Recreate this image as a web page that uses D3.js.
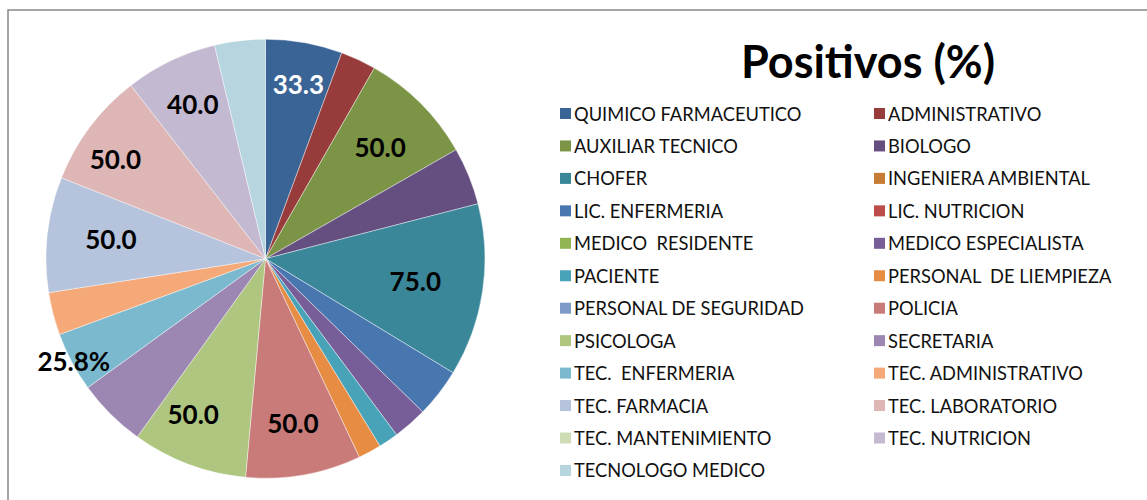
<!DOCTYPE html>
<html>
<head>
<meta charset="utf-8">
<script src="https://cdn.jsdelivr.net/npm/d3@7"></script>
<style>
  html, body { margin: 0; padding: 0; background: #fff; }
  svg { display: block; }
</style>
</head>
<body>
<div id="chart"></div>
<script>
// data
var categories = [
  "QUIMICO FARMACEUTICO", "ADMINISTRATIVO", "AUXILIAR TECNICO", "BIOLOGO",
  "CHOFER", "INGENIERA AMBIENTAL", "LIC. ENFERMERIA", "LIC. NUTRICION",
  "MEDICO  RESIDENTE", "MEDICO ESPECIALISTA", "PACIENTE", "PERSONAL  DE LIEMPIEZA",
  "PERSONAL DE SEGURIDAD", "POLICIA", "PSICOLOGA", "SECRETARIA",
  "TEC.  ENFERMERIA", "TEC. ADMINISTRATIVO", "TEC. FARMACIA", "TEC. LABORATORIO",
  "TEC. MANTENIMIENTO", "TEC. NUTRICION", "TECNOLOGO MEDICO"
]
var values = [
  33.3, 15.4, 50.0, 25.0,
  75.0, 0, 21.2, 0,
  0, 14.9, 8.6, 10.0,
  0, 50.0, 50.0, 30.0,
  25.8, 18.5, 50.0, 50.0,
  0, 40.0, 22.0
]
// slices that carry a data label
var labelled = ["QUIMICO FARMACEUTICO", "AUXILIAR TECNICO", "CHOFER", "POLICIA",
  "PSICOLOGA", "TEC.  ENFERMERIA", "TEC. FARMACIA", "TEC. LABORATORIO", "TEC. NUTRICION"]
var percentSuffix = ["TEC.  ENFERMERIA"]

var colors = [
  "#3b6496", "#983c3b", "#7c9445", "#644f80",
  "#3a879a", "#c77c34", "#4877b0", "#bc4c49",
  "#93b452", "#785e99", "#48a3b9", "#e78c43",
  "#7e9bc8", "#c97b79", "#aec67f", "#9b87b1",
  "#7bb9ce", "#f5a978", "#b5c3dc", "#ddb6b5",
  "#cfddb7", "#c3b9d0", "#b7d5df"
]

// label placement (radius as fraction of R, angle nudge in degrees)
var labelPlace = {
  "QUIMICO FARMACEUTICO": [0.81, 0.5],
  "AUXILIAR TECNICO": [0.73, 0.7],
  "CHOFER": [0.69, 0],
  "POLICIA": [0.76, 0.6],
  "PSICOLOGA": [0.78, 4.5],
  "TEC.  ENFERMERIA": [0.99, 0],
  "TEC. FARMACIA": [0.71, 1],
  "TEC. LABORATORIO": [0.82, -3.4],
  "TEC. NUTRICION": [0.78, 0.5]
}

var width = 1147, height = 500
var cx = 265.5, cy = 258.7, R = 219.5

var svg = d3.select("#chart").append("svg")
    .attr("width", width)
    .attr("height", height)
    .style("font-family", "Lato, 'Open Sans', sans-serif")

// frame (only top and left edges are visible)
svg.append("rect")
    .attr("x", 8).attr("y", 10)
    .attr("width", 1400).attr("height", 800)
    .attr("fill", "none")
    .attr("stroke", "#888")
    .attr("stroke-width", 1.5)

var color = d3.scaleOrdinal().domain(categories).range(colors)

var rows = categories.map(function(c, i) { return {name: c, value: values[i]} })

var pie = d3.pie()
    .sort(null)
    .value(function(d) { return d.value })

var arc = d3.arc().innerRadius(0).outerRadius(R)

var arcs = pie(rows)

var g = svg.append("g")
    .attr("transform", "translate(" + cx + "," + cy + ")")

g.selectAll("path.slice")
    .data(arcs.filter(function(d) { return d.data.value > 0 }))
  .enter().append("path")
    .attr("class", "slice")
    .attr("d", arc)
    .attr("fill", function(d) { return color(d.data.name) })
    .attr("stroke", "#fff")
    .attr("stroke-opacity", 0.6)
    .attr("stroke-width", 0.7)

var fmt = d3.format(".1f")

g.selectAll("text.lbl")
    .data(arcs.filter(function(d) { return labelled.indexOf(d.data.name) >= 0 }))
  .enter().append("text")
    .attr("class", "lbl")
    .attr("x", function(d) {
      var p = labelPlace[d.data.name]
      var a = (d.startAngle + d.endAngle) / 2 + p[1] * Math.PI / 180
      return Math.sin(a) * R * p[0]
    })
    .attr("y", function(d) {
      var p = labelPlace[d.data.name]
      var a = (d.startAngle + d.endAngle) / 2 + p[1] * Math.PI / 180
      return -Math.cos(a) * R * p[0]
    })
    .attr("text-anchor", "middle")
    .attr("dominant-baseline", "central")
    .attr("font-size", 26)
    .attr("font-weight", "bold")
    .attr("fill", function(d) { return d3.lab(color(d.data.name)).l < 45 ? "#fff" : "#000" })
    .text(function(d) {
      return fmt(d.data.value) + (percentSuffix.indexOf(d.data.name) >= 0 ? "%" : "")
    })

// title
svg.append("text")
    .attr("x", 868)
    .attr("y", 78)
    .attr("text-anchor", "middle")
    .attr("font-size", 45)
    .attr("font-weight", "bold")
    .attr("fill", "#000")
    .text("Positivos (%)")

// legend, two columns, filled row by row
var colX = [560, 874], rowY0 = 113.5, rowH = 32.45

var legend = svg.append("g").attr("class", "legend")

var item = legend.selectAll("g.item")
    .data(categories)
  .enter().append("g")
    .attr("class", "item")
    .attr("transform", function(d, i) {
      return "translate(" + colX[i % 2] + "," + (rowY0 + Math.floor(i / 2) * rowH) + ")"
    })

item.append("rect")
    .attr("x", 0).attr("y", -5.5)
    .attr("width", 11).attr("height", 11)
    .attr("fill", function(d) { return color(d) })

item.append("text")
    .attr("x", 14)
    .attr("y", 0)
    .attr("dominant-baseline", "central")
    .attr("font-size", 18.3)
    .attr("fill", "#111")
    .attr("xml:space", "preserve")
    .style("white-space", "pre")
    .text(function(d) { return d })
</script>
</body>
</html>
